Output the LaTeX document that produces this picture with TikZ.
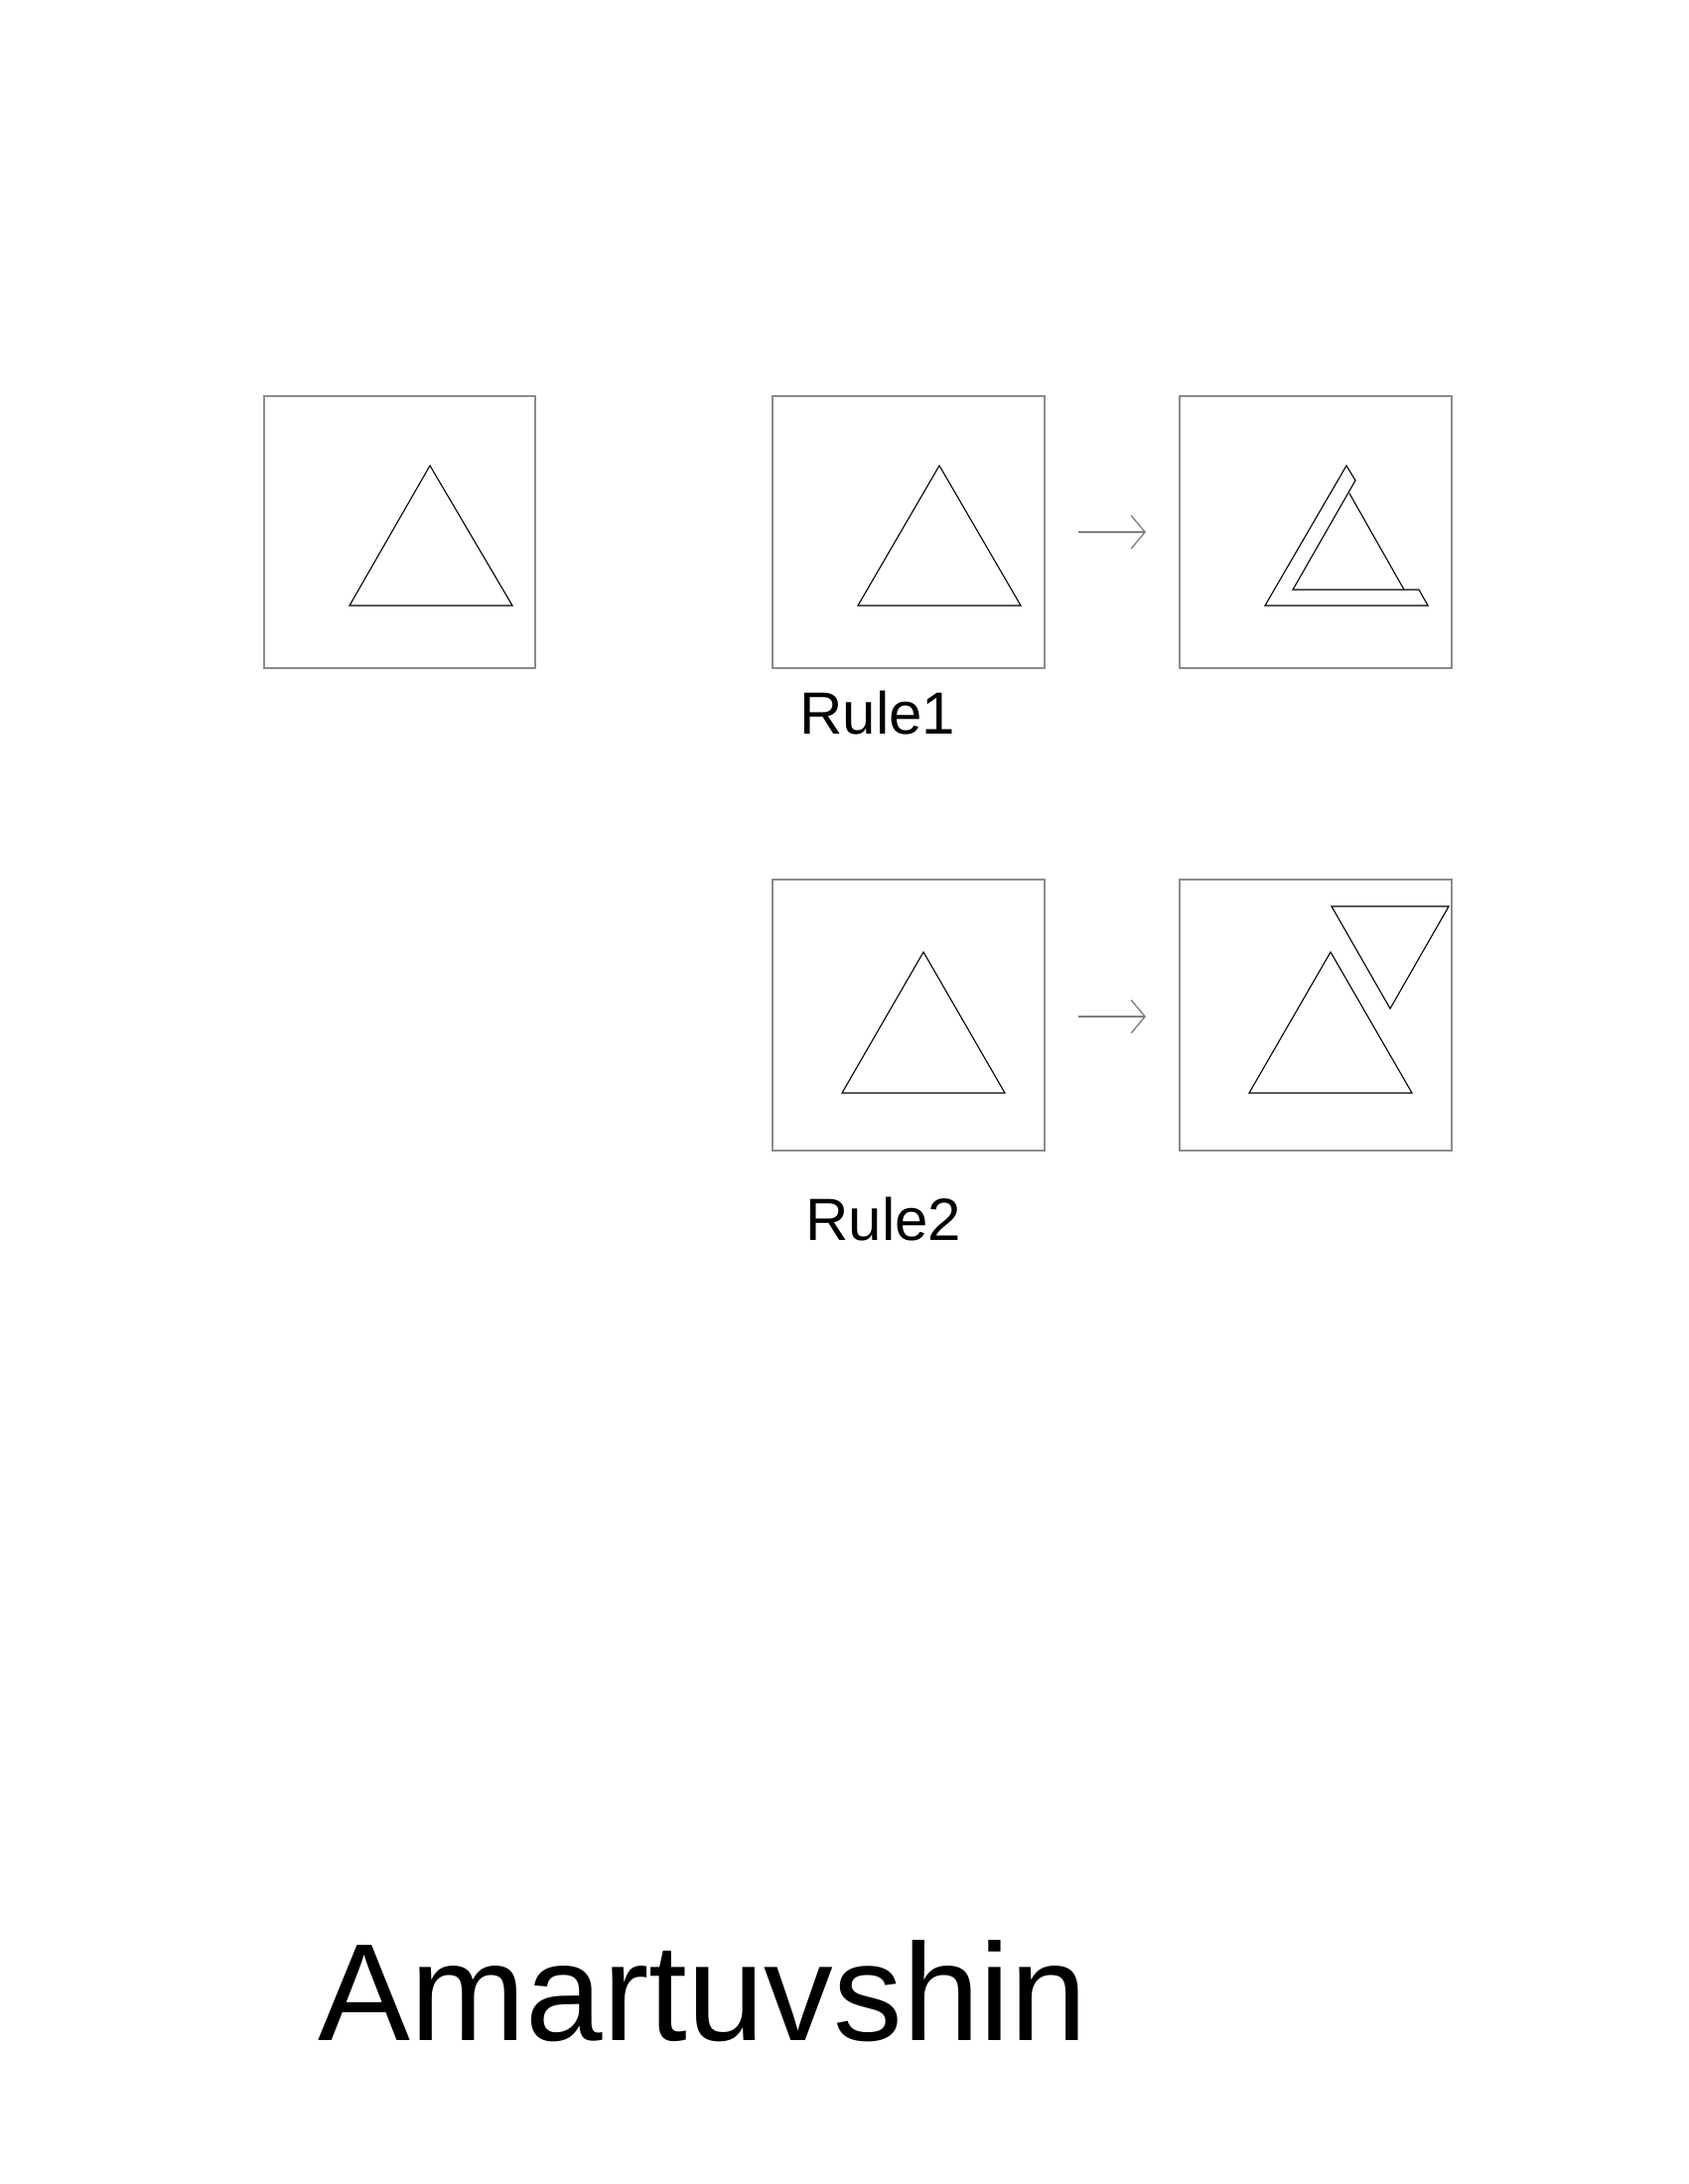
\documentclass[tikz,border=0pt]{standalone}
\usepackage{fontspec}
\setmainfont{Liberation Sans}
\usetikzlibrary{arrows.meta}
\begin{document}
\begin{tikzpicture}[x=0.005in,y=-0.005in,
  frame/.style={draw=black!45,line width=0.5pt},
  tri/.style={draw=black,line width=0.4pt,line join=miter},
  rulearrow/.style={draw=black!50,line width=0.5pt,-{Straight Barb[length=5pt,width=12pt]}},
  rulelabel/.style={anchor=base west,inner sep=0pt,font=\fontsize{21.7}{26}\selectfont},
  bigname/.style={anchor=base west,inner sep=0pt,font=\fontsize{50.4}{60}\selectfont}]
\useasboundingbox[fill=white] (0,0) rectangle (1700,2200);
% frames
\draw[frame] (266,399) rectangle (539,673);
\draw[frame] (778,399) rectangle (1052,673);
\draw[frame] (1188,399) rectangle (1462,673);
\draw[frame] (778,886) rectangle (1052,1159);
\draw[frame] (1188,886) rectangle (1462,1159);
% triangles
\draw[tri] (433,469) -- (516,610) -- (352,610) -- cycle;
\draw[tri] (946,469) -- (1028,610) -- (864,610) -- cycle;
\draw[tri] (1356,469) -- (1365,484) -- (1302,594) -- (1429,594) -- (1438,610) -- (1274,610) -- cycle;
\draw[tri] (1359,497) -- (1414,594);
\draw[tri] (930,959) -- (1012,1101) -- (848,1101) -- cycle;
\draw[tri] (1340,959) -- (1422,1101) -- (1258,1101) -- cycle;
\draw[tri] (1341,913) -- (1459,913) -- (1400,1016) -- cycle;
% arrows
\coordinate (a1s) at (1086,536);
\coordinate (a1e) at (1154,536);
\coordinate (a2s) at (1086,1024);
\coordinate (a2e) at (1154,1024);
\draw[rulearrow] (a1s) -- (a1e);
\draw[rulearrow] (a2s) -- (a2e);
% labels
\node[rulelabel] (r1) at (805,739) {Rule1};
\node[rulelabel] (r2) at (811,1249) {Rule2};
\node[bigname] (nm) at (320,2055) {Amartuvshin};
\end{tikzpicture}
\end{document}
